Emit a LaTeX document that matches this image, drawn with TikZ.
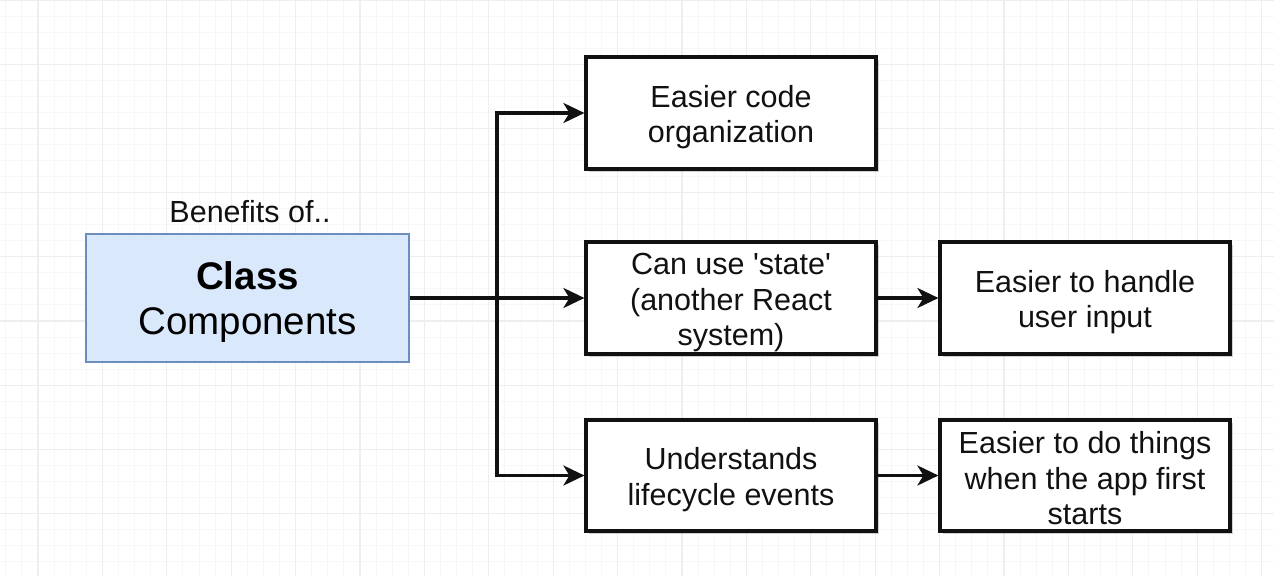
\documentclass[tikz,border=0pt]{standalone}
\usepackage{fontspec}
\setmainfont{Liberation Sans}
\usetikzlibrary{arrows.meta,shadows}
\definecolor{gridminor}{HTML}{F7F7F7}
\definecolor{gridmajor}{HTML}{EEEEEE}
\definecolor{classfill}{HTML}{DAE8FC}
\definecolor{classdraw}{HTML}{6C8EBF}
\definecolor{ink}{HTML}{111111}
\tikzset{
  box/.style={draw=ink, line width=3.2pt, fill=white, minimum width=290pt, minimum height=112pt,
    inner sep=0pt,
    drop shadow={shadow xshift=3pt, shadow yshift=-3pt, opacity=0.18, fill=black}},
  txt/.style={align=center, font=\fontsize{30.5}{35.5}\selectfont, text=ink, inner sep=0pt},
  classbox/.style={draw=classdraw, line width=2.5pt, fill=classfill, minimum width=323pt, minimum height=128pt,
    inner sep=0pt},
  classtxt/.style={align=center, font=\fontsize{38.5}{45}\selectfont, text=black, inner sep=0pt},
  arr/.style={draw=ink, line width=3.2pt, -{Stealth[length=21pt,width=20pt,inset=6pt]}},
}
\begin{document}
\begin{tikzpicture}[x=1pt,y=-1pt]
\useasboundingbox (0,0) rectangle (1274,576);
\fill[white] (0,0) rectangle (1274,576);
% grid
\foreach \i in {-2,...,77} {
  \draw[gridminor, line width=1pt] ({38+16.1*\i},0) -- ({38+16.1*\i},576);
}
\foreach \i in {0,...,36} {
  \draw[gridminor, line width=1pt] (0,{16.05*\i}) -- (1274,{16.05*\i});
}
\foreach \i in {-1,...,19} {
  \draw[gridmajor, line width=1.3pt] ({38+64.4*\i},0) -- ({38+64.4*\i},576);
}
\foreach \i in {0,...,9} {
  \draw[gridmajor, line width=1.3pt] (0,{64.2*\i}) -- (1274,{64.2*\i});
}
% nodes
\node[txt] (benefits) at (250,212) {Benefits of..};
\node[classbox] (class) at (247.5,298) {};
\node[classtxt] (classt) at ([yshift=-4.5pt]class.center) {\textbf{Class}\\Components};
\node[box] (b1) at (731,113) {};
\node[txt] (b1t) at ([yshift=-4pt]b1.center) {Easier code\\organization};
\node[box] (b2) at (731,298) {};
\node[txt] (b2t) at ([yshift=-5pt]b2.center) {Can use \textquotesingle state\textquotesingle\\(another React\\system)};
\node[box, minimum height=111pt] (b3) at (731,475.5) {};
\node[txt] (b3t) at ([yshift=-4pt]b3.center) {Understands\\lifecycle events};
\node[box] (b4) at (1085,298) {};
\node[txt] (b4t) at ([yshift=-4pt]b4.center) {Easier to handle\\user input};
\node[box, minimum height=111pt] (b5) at (1085,475.5) {};
\node[txt] (b5t) at ([yshift=-3pt]b5.center) {Easier to do things\\when the app first\\starts};
% connectors
\coordinate (br) at (497,298);
\draw[arr] (class.east) -- (b2.west);
\draw[arr] (br) |- (b1.west);
\draw[arr] (br) |- (b3.west);
\draw[arr] (b2.east) -- (b4.west);
\draw[arr] (b3.east) -- (b5.west);
\end{tikzpicture}
\end{document}
